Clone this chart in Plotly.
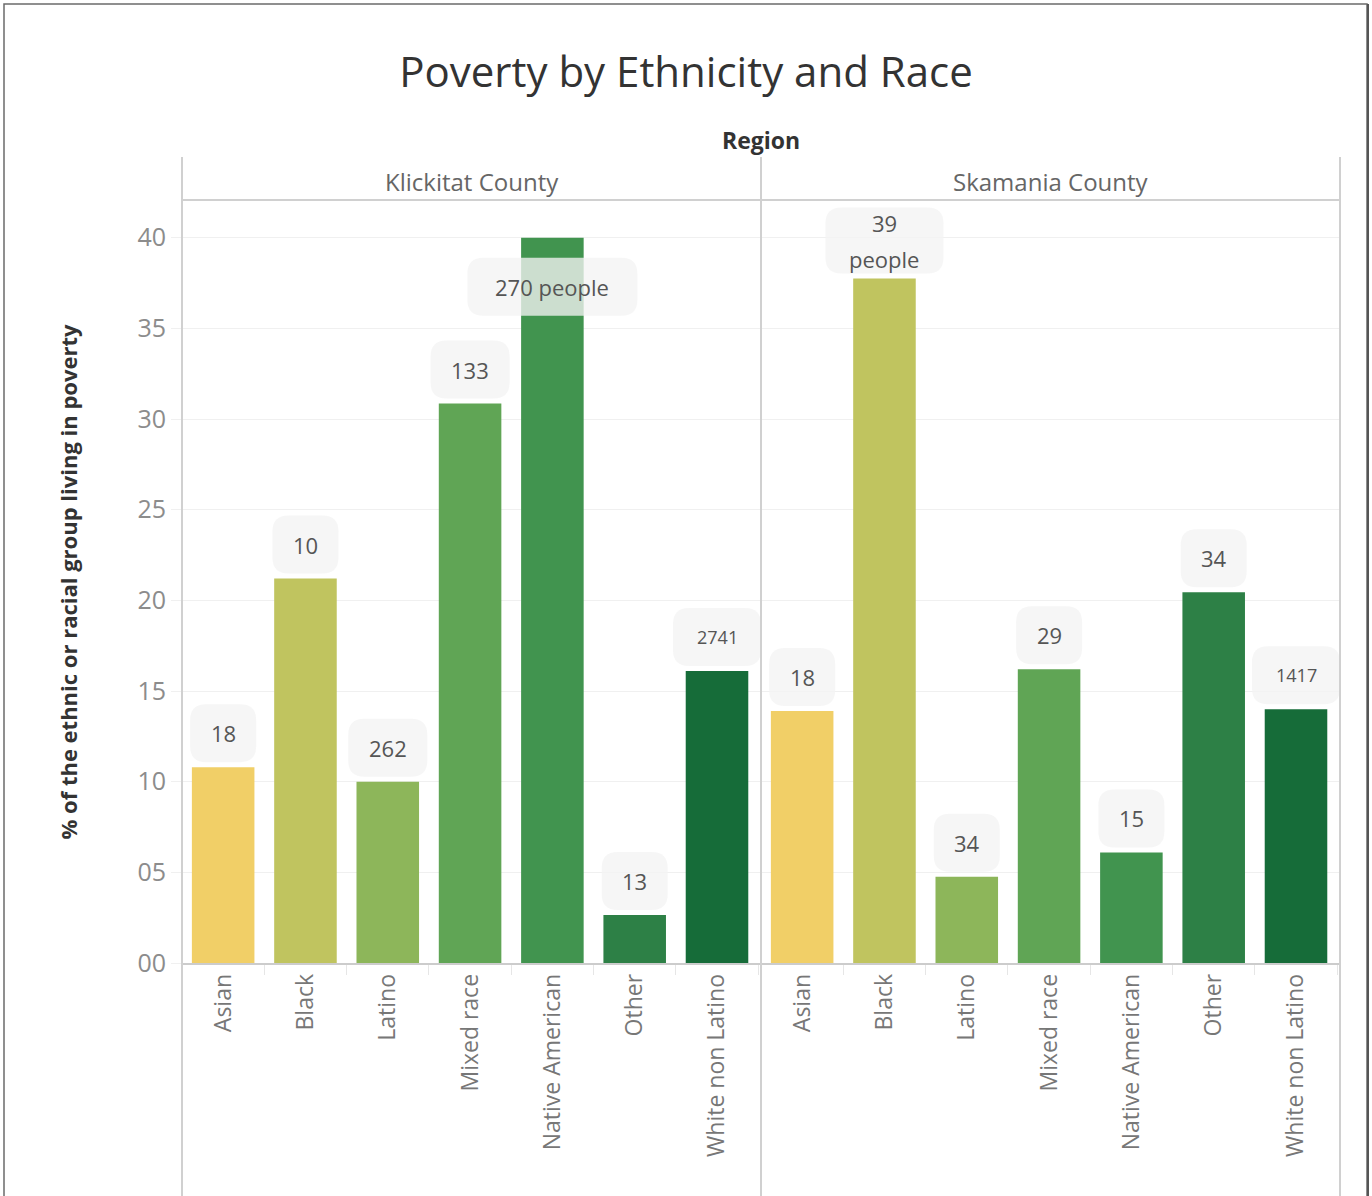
import plotly.graph_objects as go

# ---- data -----------------------------------------------------------------
categories = ["Asian", "Black", "Latino", "Mixed race", "Native American", "Other", "White non Latino"]
regions = ["Klickitat County", "Skamania County"]

# % of each ethnic / racial group living in poverty
klickitat_pct = [10.8, 21.2, 10.0, 30.85, 40.0, 2.65, 16.1]
skamania_pct = [13.9, 37.75, 4.75, 16.2, 6.1, 20.45, 14.0]

# number of people in poverty (bar labels)
klickitat_people = ["18", "10", "262", "133", "270 people", "13", "2741"]
skamania_people = ["18", "39<br>people", "34", "29", "15", "34", "1417"]

y_tick_values = [0, 5, 10, 15, 20, 25, 30, 35, 40]
y_tick_labels = ["00", "05", "10", "15", "20", "25", "30", "35", "40"]

# ---- style ----------------------------------------------------------------
bar_colors = ["#F1CF67", "#C0C45F", "#8DB65A", "#60A555", "#41944F", "#2D8046", "#166C39"]
FONT = "'Open Sans', 'Noto Sans', sans-serif"
W, H = 1372, 1196
M_L, M_R, M_T, M_B = 182, 32, 200, 233
Y_MAX = 42.08
LINE_GAP = 36          # spacing between lines of a multi-line bar label
plot_h = H - M_T - M_B
plot_w = W - M_L - M_R
px_per_unit = plot_h / Y_MAX


def paper_y(py):
    return (H - M_B - py) / plot_h


def paper_x(px):
    return (px - M_L) / plot_w


def rounded_rect(cy, w, h, r):
    x0, x1 = -w / 2, w / 2
    y0, y1 = cy - h / 2, cy + h / 2
    return (f"M{x0 + r},{y0} L{x1 - r},{y0} Q{x1},{y0} {x1},{y0 + r} "
            f"L{x1},{y1 - r} Q{x1},{y1} {x1 - r},{y1} L{x0 + r},{y1} "
            f"Q{x0},{y1} {x0},{y1 - r} L{x0},{y0 + r} Q{x0},{y0} {x0 + r},{y0} Z")


fig = go.Figure()
shapes = []
annotations = []

panels = [("x", klickitat_pct, klickitat_people),
          ("x2", skamania_pct, skamania_people)]

for xref, values, labels in panels:
    fig.add_trace(go.Bar(
        x=categories, y=values, xaxis=xref, yaxis="y",
        marker=dict(color=bar_colors, line=dict(width=0)),
        hoverinfo="x+y", showlegend=False,
    ))
    for i, (val, lab) in enumerate(zip(values, labels)):
        lines = lab.split("<br>")
        longest = max(len(s) for s in lines)
        small = lab.isdigit() and len(lab) >= 4
        fsize = 18 if small else 22
        w = 40 + (12 if small else 13) * longest
        h = 58 if len(lines) == 1 else 66
        cy = 5 + h / 2
        bar_top_px = H - M_B - val * px_per_unit
        if bar_top_px - cy - h / 2 < M_T:
            # no room above the bar: tuck the label inside its top
            cy = -(20 + h / 2)
        shapes.append(dict(
            type="path", xref=xref, yref="y",
            xsizemode="pixel", ysizemode="pixel",
            xanchor=i, yanchor=val,
            path=rounded_rect(cy, w, h, 16),
            fillcolor="rgba(244,244,244,0.78)", line=dict(width=0),
            layer="above",
        ))
        n = len(lines)
        for k, line in enumerate(lines):
            annotations.append(dict(
                x=categories[i], y=val, xref=xref, yref="y",
                yshift=cy + ((n - 1) / 2 - k) * LINE_GAP,
                text=line, showarrow=False, xanchor="center", yanchor="middle",
                font=dict(family=FONT, size=fsize, color="#555555"),
            ))

# header texts
hdr = dict(xref="paper", yref="paper", showarrow=False, xanchor="center", yanchor="middle")
annotations += [
    dict(x=0.5, y=paper_y(140), text="<b>Region</b>",
         font=dict(family=FONT, size=23, color="#333333"), **hdr),
    dict(x=0.25, y=paper_y(181), text=regions[0],
         font=dict(family=FONT, size=24, color="#666666"), **hdr),
    dict(x=0.75, y=paper_y(181), text=regions[1],
         font=dict(family=FONT, size=24, color="#666666"), **hdr),
    dict(x=paper_x(67), y=0.5, textangle=-90,
         text="<b>% of the ethnic or racial group living in poverty</b>",
         font=dict(family=FONT, size=22, color="#333333"), **hdr),
]

# panel frame lines
line_style = dict(color="#d0d0d0", width=2)
for xp in (0, 0.5, 1):
    shapes.append(dict(type="line", xref="paper", yref="paper",
                       x0=xp, x1=xp, y0=paper_y(H + 5), y1=paper_y(157),
                       line=line_style, layer="above"))
shapes.append(dict(type="line", xref="paper", yref="paper",
                   x0=0, x1=1, y0=1, y1=1, line=line_style))
# outer border of the view
shapes.append(dict(type="rect", xref="paper", yref="paper",
                   x0=paper_x(4), x1=paper_x(1367), y0=paper_y(H + 10), y1=paper_y(4),
                   line=dict(color="#6b6b6b", width=1.5)))
shapes.append(dict(type="line", xref="paper", yref="paper",
                   x0=paper_x(1368), x1=paper_x(1368), y0=paper_y(H + 10), y1=paper_y(4),
                   line=dict(color="#555555", width=2)))

x_common = dict(
    type="category", categoryorder="array", categoryarray=categories,
    tickangle=-90, tickfont=dict(family=FONT, size=23, color="#777777"),
    ticks="outside", tickson="boundaries", ticklen=10, tickcolor="#e6e6e6",
    showline=True, linecolor="#cccccc", linewidth=1.5,
    showgrid=False, zeroline=False, anchor="y", fixedrange=True,
)

fig.update_layout(
    width=W, height=H,
    margin=dict(l=M_L, r=M_R, t=M_T, b=M_B),
    paper_bgcolor="white", plot_bgcolor="white",
    bargap=0.24,
    title=dict(text="Poverty by Ethnicity and Race", x=0.5, xanchor="center",
               y=1 - 72 / H, yanchor="middle", xref="container", yref="container",
               font=dict(family=FONT, size=42, color="#333333")),
    xaxis=dict(domain=[0, 0.5], **x_common),
    xaxis2=dict(domain=[0.5, 1], **x_common),
    yaxis=dict(
        range=[0, Y_MAX], tickvals=y_tick_values, ticktext=y_tick_labels,
        tickfont=dict(family=FONT, size=25, color="#8c8c8c"),
        ticks="outside", ticklen=10, tickcolor="#f0f0f0",
        showgrid=True, gridcolor="#f0f0f0", gridwidth=1,
        showline=False, zeroline=False, fixedrange=True,
    ),
    shapes=shapes,
    annotations=annotations,
    font=dict(family=FONT),
)

fig.write_html("out.html")
